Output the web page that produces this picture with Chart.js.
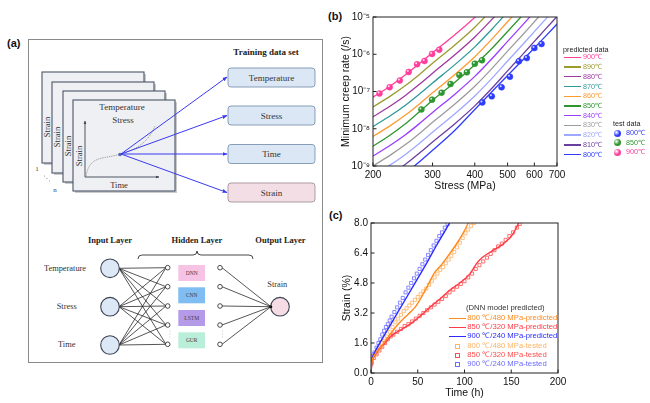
<!DOCTYPE html>
<html>
<head>
<meta charset="utf-8">
<script src="https://cdn.jsdelivr.net/npm/chart.js@4.4.1/dist/chart.umd.min.js"></script>
<style>
  body { margin: 0; background: #fff; }
  #page { position: relative; width: 650px; height: 403px; overflow: hidden; font-family: "Liberation Sans", Arial, sans-serif; }
  .abs { position: absolute; white-space: nowrap; line-height: 1; }
  .panel { font-weight: bold; font-size: 11px; color: #111; }
  canvas { position: absolute; }
</style>
</head>
<body>
<div id="page">
<svg width="650" height="403" style="position:absolute;left:0;top:0" font-family="Liberation Serif, Times New Roman, serif">
  <defs>
    <marker id="blueHead" viewBox="0 0 10 10" refX="9" refY="5" markerWidth="5" markerHeight="5" orient="auto">
      <path d="M0,1 L10,5 L0,9 z" fill="#3a3af2"/>
    </marker>
    <marker id="darkHead" viewBox="0 0 10 10" refX="9" refY="5" markerWidth="4" markerHeight="4" orient="auto">
      <path d="M0,1 L10,5 L0,9 z" fill="#3d4452"/>
    </marker>
  </defs>
  <text x="7" y="47" font-family="Liberation Sans, Arial" font-weight="bold" font-size="11" fill="#111">(a)</text>
  <rect x="28.5" y="39.5" width="294" height="323" fill="#fff" stroke="#8a8a8a" stroke-width="1"/>
  <text x="266" y="55" text-anchor="middle" font-weight="bold" font-size="9" fill="#222">Training data set</text>

  <!-- stacked strain-time cards -->
  <g>
    <rect x="44" y="74" width="102" height="91" fill="#c9cbcf"/>
    <rect x="42" y="72" width="102" height="91" fill="#eef0f3" stroke="#4b5668" stroke-width="1.1"/>
    <rect x="54" y="84" width="102" height="91" fill="#c9cbcf"/>
    <rect x="52" y="82" width="102" height="91" fill="#eef0f3" stroke="#4b5668" stroke-width="1.1"/>
    <rect x="65" y="93" width="102" height="91" fill="#c9cbcf"/>
    <rect x="63" y="91" width="102" height="91" fill="#eef0f3" stroke="#4b5668" stroke-width="1.1"/>
    <rect x="75" y="102" width="102" height="91" fill="#c9cbcf"/>
    <rect x="73" y="100" width="102" height="91" fill="#eef0f3" stroke="#4b5668" stroke-width="1.1"/>
  </g>
  <g font-size="8.5" fill="#333" text-anchor="middle">
    <text transform="translate(50,127) rotate(-90)">Strain</text>
    <text transform="translate(60,137) rotate(-90)">Strain</text>
    <text transform="translate(71,146) rotate(-90)">Strain</text>
    <text transform="translate(82,156) rotate(-90)">Strain</text>
    <text x="122" y="110" font-size="9">Temperature</text>
    <text x="123" y="123" font-size="9">Stress</text>
    <text x="119" y="188">Time</text>
  </g>
  <line x1="85" y1="177" x2="85" y2="121" stroke="#3d4452" stroke-width="0.9" marker-end="url(#darkHead)"/>
  <line x1="85" y1="177" x2="159" y2="177" stroke="#3d4452" stroke-width="0.9" marker-end="url(#darkHead)"/>
  <path d="M86,176 C88,164 94,159 105,157.5 L120,154.5 C135,150 148,143 155,126" fill="none" stroke="#8f8f8f" stroke-width="0.9" stroke-dasharray="1.2,1"/>
  <circle cx="120" cy="154.5" r="1.8" fill="#5566aa"/>
  <g font-size="7" fill="#444" text-anchor="middle">
    <text x="37" y="171">1</text>
    <text x="55" y="192">n</text>
  </g>
  <g fill="#777">
    <circle cx="44.5" cy="176" r="0.5"/><circle cx="47" cy="178.5" r="0.5"/><circle cx="49.5" cy="181" r="0.5"/>
  </g>

  <!-- arrows to training data boxes -->
  <g stroke="#3a3af2" stroke-width="1" marker-end="url(#blueHead)">
    <line x1="121" y1="154" x2="227" y2="77"/>
    <line x1="121" y1="154" x2="227" y2="115.5"/>
    <line x1="121" y1="154" x2="227" y2="154"/>
    <line x1="121" y1="154" x2="227" y2="192.5"/>
  </g>
  <g stroke-width="0.9">
    <rect x="228" y="68" width="87" height="19" rx="3" fill="#dbe7f5" stroke="#7d94b0"/>
    <rect x="228" y="106" width="87" height="19" rx="3" fill="#dbe7f5" stroke="#7d94b0"/>
    <rect x="228" y="144.5" width="87" height="19" rx="3" fill="#dbe7f5" stroke="#7d94b0"/>
    <rect x="228" y="183" width="87" height="19" rx="3" fill="#f4dee5" stroke="#a3929c"/>
  </g>
  <g font-size="9" fill="#333" text-anchor="middle">
    <text x="271.5" y="80.5">Temperature</text>
    <text x="271.5" y="118.5">Stress</text>
    <text x="271.5" y="157">Time</text>
    <text x="271.5" y="195.5">Strain</text>
  </g>

  <!-- network -->
  <g font-size="8.5" font-weight="bold" fill="#222" text-anchor="middle">
    <text x="110" y="243">Input Layer</text>
    <text x="197" y="243">Hidden Layer</text>
    <text x="280.5" y="243">Output Layer</text>
  </g>
  <path d="M138,259 Q138,255 142,255 L193,255 Q197,255 197,251 Q197,255 201,255 L249,255 Q253,255 253,259" fill="none" stroke="#333" stroke-width="0.9"/>
  <g stroke="#1e1e1e" stroke-width="0.75">
    <line x1="119" y1="268.3" x2="166" y2="267.7"/><line x1="119" y1="268.3" x2="166" y2="286.7"/><line x1="119" y1="268.3" x2="166" y2="306"/><line x1="119" y1="268.3" x2="166" y2="325"/><line x1="119" y1="268.3" x2="166" y2="344.3"/>
    <line x1="119" y1="306.7" x2="166" y2="267.7"/><line x1="119" y1="306.7" x2="166" y2="286.7"/><line x1="119" y1="306.7" x2="166" y2="306"/><line x1="119" y1="306.7" x2="166" y2="325"/><line x1="119" y1="306.7" x2="166" y2="344.3"/>
    <line x1="119" y1="345" x2="166" y2="267.7"/><line x1="119" y1="345" x2="166" y2="286.7"/><line x1="119" y1="345" x2="166" y2="306"/><line x1="119" y1="345" x2="166" y2="325"/><line x1="119" y1="345" x2="166" y2="344.3"/>
    <line x1="222" y1="267.7" x2="271" y2="306.7"/><line x1="222" y1="286.7" x2="271" y2="306.7"/><line x1="222" y1="306" x2="271" y2="306.7"/><line x1="222" y1="325" x2="271" y2="306.7"/><line x1="222" y1="344.3" x2="271" y2="306.7"/>
  </g>
  <g fill="#dce8f5" stroke="#3d4452" stroke-width="1.1">
    <circle cx="110" cy="268.3" r="9.3"/><circle cx="110" cy="306.7" r="9.3"/><circle cx="110" cy="345" r="9.3"/>
  </g>
  <circle cx="280" cy="306.7" r="9.3" fill="#f6dce4" stroke="#3d4452" stroke-width="1.1"/>
  <circle cx="270.8" cy="306.7" r="1.5" fill="#111"/>
  <g fill="#fff" stroke="#222" stroke-width="0.8">
    <circle cx="167.7" cy="267.7" r="2.3"/><circle cx="167.7" cy="286.7" r="2.3"/><circle cx="167.7" cy="306" r="2.3"/><circle cx="167.7" cy="325" r="2.3"/><circle cx="167.7" cy="344.3" r="2.3"/>
    <circle cx="220" cy="267.7" r="2.3"/><circle cx="220" cy="286.7" r="2.3"/><circle cx="220" cy="306" r="2.3"/><circle cx="220" cy="325" r="2.3"/><circle cx="220" cy="344.3" r="2.3"/>
  </g>
  <g fill="#888">
    <circle cx="170" cy="331" r="0.45"/><circle cx="170" cy="334" r="0.45"/><circle cx="170" cy="337" r="0.45"/>
    <circle cx="222.5" cy="331" r="0.45"/><circle cx="222.5" cy="334" r="0.45"/><circle cx="222.5" cy="337" r="0.45"/>
  </g>
  <g>
    <rect x="178.3" y="265" width="26.7" height="16" fill="#f7c3e5"/>
    <rect x="178.3" y="287.3" width="26.7" height="16" fill="#7fbdf2"/>
    <rect x="178.3" y="310" width="26.7" height="16" fill="#b59ae8"/>
    <rect x="178.3" y="332.3" width="26.7" height="16" fill="#b9eedb"/>
  </g>
  <g font-size="5.5" fill="#4a3a4a" text-anchor="middle">
    <text x="191.7" y="275">DNN</text>
    <text x="191.7" y="297.3">CNN</text>
    <text x="191.7" y="320">LSTM</text>
    <text x="191.7" y="342.3">GUR</text>
  </g>
  <g font-size="8.4" fill="#333" text-anchor="middle">
    <text x="65" y="271">Temperature</text>
    <text x="66.7" y="309">Stress</text>
    <text x="66.7" y="347">Time</text>
    <text x="277.3" y="287">Strain</text>
  </g>
</svg>

<div class="abs panel" style="left:328px;top:11px">(b)</div>
<div class="abs panel" style="left:329px;top:210px">(c)</div>
<canvas id="rateChart" width="237" height="189" style="left:335px;top:5px;width:237px;height:189px"></canvas>
<canvas id="strainChart" width="237" height="188" style="left:335px;top:213px;width:237px;height:188px"></canvas>
<div id="legendB"></div>
<div id="legendC"></div>
</div>

<script>
// ---- panel (b): minimum creep rate vs stress ----
const stressGrid = [200, 225, 250, 275, 300, 350, 400, 450, 500, 550, 600, 650, 700];
const stressTicks = [200, 300, 400, 500, 600, 700];
const rateTicks = [1e-9, 1e-8, 1e-7, 1e-6, 1e-5];

const predTemps = ['900', '890', '880', '870', '860', '850', '840', '830', '820', '810', '800'];
const predColors = ['#ff3e9b', '#9b9b2f', '#a0389f', '#2f9a9a', '#ff9a30', '#2e962e', '#9b3cff', '#9c9c9c', '#9fa8ff', '#6b3fa0', '#2f3cff'];

// predicted rates, read along stressGrid (a line stops once it leaves the top)
const rate900 = [7.08e-8, 1.40e-7, 2.85e-7, 5.70e-7, 1.10e-6, 3.40e-6, 9.80e-6, 2.95e-5];
const rate890 = [3.85e-8, 7.52e-8, 1.47e-7, 2.92e-7, 5.70e-7, 1.80e-6, 5.32e-6, 1.61e-5];
const rate880 = [2.10e-8, 4.09e-8, 7.98e-8, 1.59e-7, 3.10e-7, 9.82e-7, 2.90e-6, 8.75e-6, 2.52e-5];
const rate870 = [1.14e-8, 2.23e-8, 4.35e-8, 8.67e-8, 1.69e-7, 5.35e-7, 1.58e-6, 4.76e-6, 1.37e-5];
const rate860 = [6.22e-9, 1.21e-8, 2.37e-8, 4.72e-8, 9.20e-8, 2.91e-7, 8.59e-7, 2.59e-6, 7.48e-6, 1.92e-5];
const rate850 = [3.39e-9, 6.80e-9, 1.38e-8, 2.90e-8, 5.80e-8, 1.80e-7, 5.20e-7, 1.45e-6, 4.07e-6, 1.05e-5, 2.51e-5];
const rate840 = [1.85e-9, 3.60e-9, 7.02e-9, 1.40e-8, 2.73e-8, 8.63e-8, 2.55e-7, 7.69e-7, 2.22e-6, 5.70e-6, 1.37e-5];
const rate830 = [1.00e-9, 1.96e-9, 3.82e-9, 7.62e-9, 1.49e-8, 4.70e-8, 1.39e-7, 4.19e-7, 1.21e-6, 3.10e-6, 7.45e-6, 1.67e-5];
const rate820 = [5.47e-10, 1.07e-9, 2.08e-9, 4.15e-9, 8.09e-9, 2.56e-8, 7.55e-8, 2.28e-7, 6.58e-7, 1.69e-6, 4.06e-6, 9.08e-6, 1.90e-5];
const rate810 = [2.98e-10, 5.81e-10, 1.13e-9, 2.26e-9, 4.41e-9, 1.39e-8, 4.11e-8, 1.24e-7, 3.58e-7, 9.20e-7, 2.21e-6, 4.94e-6, 1.03e-5];
const rate800 = [1.74e-10, 3.39e-10, 6.61e-10, 1.32e-9, 2.63e-9, 9.30e-9, 3.30e-8, 1.00e-7, 2.70e-7, 6.50e-7, 1.48e-6, 3.16e-6, 6.46e-6];
const predRates = [rate900, rate890, rate880, rate870, rate860, rate850, rate840, rate830, rate820, rate810, rate800];

// test data
const testTemps = ['800', '850', '900'];
const testColors = ['#2f3cff', '#2e962e', '#ff3e9b'];
const test800Stress = [421, 449, 480, 508, 540, 570, 600, 630];
const test800Rate = [5.1e-8, 7.4e-8, 1.3e-7, 2.5e-7, 6.5e-7, 7.9e-7, 1.47e-6, 1.88e-6];
const test850Stress = [278, 299, 319, 339, 360, 379, 400, 420];
const test850Rate = [3.3e-8, 6.05e-8, 9.3e-8, 1.59e-7, 2.77e-7, 3.27e-7, 5.6e-7, 6.9e-7];
const test900Stress = [209, 224, 240, 255, 270, 284, 299, 314];
const test900Rate = [8.8e-8, 1.3e-7, 1.96e-7, 3.34e-7, 5.4e-7, 6.6e-7, 1.02e-6, 1.33e-6];
const testStress = [test800Stress, test850Stress, test900Stress];
const testRate = [test800Rate, test850Rate, test900Rate];

// ---- panel (c): strain vs time ----
const conditions = ['800 ℃/480 MPa', '850 ℃/320 MPa', '900 ℃/240 MPa'];
const predStrainColors = ['#ff8a1f', '#ff3b47', '#2b2bff'];
const testStrainColors = ['#ffb366', '#ff4d4d', '#6b6bff'];
const strainTicks = [0, 1.6, 3.2, 4.8, 6.4, 8.0];
const timeTicks = [0, 50, 100, 150, 200];

const pred800Time = [0, 1, 2, 5, 10, 18, 29, 40, 47, 54, 61, 68, 75, 84, 93, 99, 104];
const pred800Strain = [0, 0.6, 0.8, 1.05, 1.35, 1.9, 2.6, 3.15, 3.5, 4.05, 4.7, 5.35, 5.75, 6.35, 7.0, 7.5, 8.0];
const pred850Time = [0, 1, 2, 5, 10, 15, 20, 25, 32, 43, 54, 64, 75, 85, 95, 106, 113, 120, 131, 142, 151, 158];
const pred850Strain = [0, 0.55, 0.75, 1.0, 1.35, 1.6, 1.9, 2.1, 2.3, 2.65, 3.1, 3.55, 4.0, 4.45, 4.8, 5.3, 5.85, 6.2, 6.55, 6.9, 7.35, 8.0];
const pred900Time = [0, 1, 3, 6, 10, 20, 30, 40, 50, 60, 70, 80, 84];
const pred900Strain = [0, 0.7, 1.0, 1.3, 1.65, 2.5, 3.35, 4.2, 5.05, 5.9, 6.8, 7.65, 8.0];

const test800Time = [1, 3, 5, 8, 11, 14, 17, 20, 23, 26, 29, 32, 35, 38, 41, 44, 47, 50, 53, 56, 59, 62, 65, 68, 71, 74, 77, 80, 83, 86, 89, 92, 95, 98, 101, 104, 107, 110];
const test800Strain = [0.65, 0.9, 1.05, 1.25, 1.45, 1.7, 1.95, 2.2, 2.45, 2.7, 2.9, 3.1, 3.3, 3.45, 3.6, 3.75, 3.9, 4.05, 4.2, 4.35, 4.5, 4.7, 4.9, 5.1, 5.3, 5.5, 5.65, 5.85, 6.05, 6.25, 6.45, 6.7, 6.95, 7.2, 7.45, 7.65, 7.85, 8.0];
const test850Time = [1, 3, 6, 9, 12, 15, 18, 21, 24, 28, 32, 36, 40, 44, 48, 52, 56, 60, 64, 68, 72, 76, 80, 84, 88, 92, 96, 100, 104, 108, 112, 116, 120, 124, 128, 132, 136, 140, 144, 148, 152, 156, 159];
const test850Strain = [0.6, 0.8, 1.0, 1.2, 1.4, 1.6, 1.8, 1.95, 2.05, 2.2, 2.35, 2.5, 2.6, 2.75, 2.9, 3.05, 3.2, 3.35, 3.5, 3.65, 3.8, 3.95, 4.1, 4.3, 4.45, 4.6, 4.75, 4.9, 5.1, 5.3, 5.55, 5.75, 5.95, 6.15, 6.35, 6.55, 6.75, 6.9, 7.1, 7.3, 7.5, 7.75, 7.95];
const test900Time = [0.5, 1, 2, 3, 4, 6, 8, 10, 12, 14, 16, 18, 20, 22, 25, 28, 31, 34, 37, 40, 43, 46, 49, 52, 55, 58, 61, 64, 67, 70, 73, 76, 79, 82];
const test900Strain = [0.5, 0.75, 0.9, 1.0, 1.1, 1.35, 1.6, 1.8, 2.05, 2.25, 2.45, 2.6, 2.8, 3.0, 3.25, 3.5, 3.75, 4.0, 4.3, 4.55, 4.8, 5.05, 5.3, 5.55, 5.8, 6.05, 6.3, 6.55, 6.8, 7.05, 7.3, 7.5, 7.75, 7.95];

const predTime = [pred800Time, pred850Time, pred900Time];
const predStrain = [pred800Strain, pred850Strain, pred900Strain];
const testTime = [test800Time, test850Time, test900Time];
const testStrain = [test800Strain, test850Strain, test900Strain];

const FONT = '"Liberation Sans", Arial, sans-serif';
const SUP = {'-': '⁻', '0': '⁰', '1': '¹', '2': '²', '3': '³', '4': '⁴', '5': '⁵', '6': '⁶', '7': '⁷', '8': '⁸', '9': '⁹'};
const toPairs = (xs, ys) => ys.map((y, i) => ({x: xs[i], y: y}));

// frame round the plot area plus inward tick marks
const frameTicks = {
  id: 'frameTicks',
  afterDraw(chart) {
    const {ctx, chartArea: a, scales} = chart;
    ctx.save();
    ctx.strokeStyle = '#222';
    ctx.lineWidth = 1;
    ctx.strokeRect(a.left, a.top, a.right - a.left, a.bottom - a.top);
    ctx.beginPath();
    scales.x.ticks.forEach((t, i) => {
      const px = scales.x.getPixelForTick(i);
      ctx.moveTo(px, a.bottom); ctx.lineTo(px, a.bottom - 3.5);
    });
    scales.y.ticks.forEach((t, i) => {
      const py = scales.y.getPixelForTick(i);
      ctx.moveTo(a.left, py); ctx.lineTo(a.left + 3.5, py);
    });
    ctx.stroke();
    ctx.restore();
  }
};

// small highlight so the test points look like balls
const sphereShine = {
  id: 'sphereShine',
  afterDatasetsDraw(chart) {
    const ctx = chart.ctx;
    chart.data.datasets.forEach((ds, i) => {
      if (!ds.sphere) return;
      chart.getDatasetMeta(i).data.forEach(pt => {
        ctx.save();
        ctx.fillStyle = 'rgba(255,255,255,0.8)';
        ctx.beginPath();
        ctx.arc(pt.x - 0.9, pt.y - 1, 1, 0, Math.PI * 2);
        ctx.fill();
        ctx.restore();
      });
    });
  }
};

function axisBase(tickFont) {
  return {
    grid: {display: false, drawTicks: false},
    border: {display: false},
    ticks: {color: '#111', font: {family: FONT, size: tickFont}, maxRotation: 0, autoSkip: false}
  };
}

const rateDatasets = predRates.map((r, i) => ({
  label: predTemps[i] + '℃',
  data: toPairs(stressGrid, r),
  borderColor: predColors[i],
  borderWidth: 1.3,
  pointRadius: 0,
  cubicInterpolationMode: 'monotone',
  order: 2
}));
testRate.forEach((r, i) => {
  rateDatasets.push({
    label: 'test ' + testTemps[i] + '℃',
    data: toPairs(testStress[i], r),
    showLine: false,
    sphere: true,
    pointRadius: 3,
    pointBackgroundColor: testColors[i],
    pointBorderColor: testColors[i],
    pointBorderWidth: 0.5,
    order: 1
  });
});

const bx = axisBase(10), by = axisBase(10);
new Chart(document.getElementById('rateChart'), {
  type: 'line',
  data: {datasets: rateDatasets},
  options: {
    responsive: false,
    animation: false,
    layout: {padding: {top: 12, right: 15, left: 0, bottom: 0}},
    plugins: {legend: {display: false}, tooltip: {enabled: false}},
    scales: {
      x: Object.assign(bx, {
        type: 'logarithmic', min: 200, max: 700,
        afterBuildTicks: s => { s.ticks = stressTicks.map(v => ({value: v})); },
        afterFit: s => { s.height = 28; },
        ticks: Object.assign(bx.ticks, {padding: 3, callback: v => String(v)}),
        title: {display: true, text: 'Stress (MPa)', color: '#111', font: {family: FONT, size: 10.5}, padding: {top: 0, bottom: 1.7}}
      }),
      y: Object.assign(by, {
        type: 'logarithmic', min: 1e-9, max: 1e-5,
        afterBuildTicks: s => { s.ticks = rateTicks.map(v => ({value: v})); },
        afterFit: s => { s.width = 38; },
        ticks: Object.assign(by.ticks, {padding: 3, callback: v => '10' + String(Math.round(Math.log10(v))).split('').map(c => SUP[c]).join('')}),
        title: {display: true, text: 'Minimum creep rate (/s)', color: '#111', font: {family: FONT, size: 10.5}, padding: {top: 4.7, bottom: 0}}
      })
    }
  },
  plugins: [frameTicks, sphereShine]
});

const strainDatasets = [];
predTime.forEach((t, i) => {
  strainDatasets.push({
    label: conditions[i] + '-predicted',
    data: toPairs(t, predStrain[i]),
    borderColor: predStrainColors[i],
    borderWidth: 1.4,
    pointRadius: 0,
    cubicInterpolationMode: 'monotone',
    order: 1
  });
});
testTime.forEach((t, i) => {
  strainDatasets.push({
    label: conditions[i] + '-tested',
    data: toPairs(t, testStrain[i]),
    showLine: false,
    pointStyle: 'rect',
    pointRadius: 2.2,
    pointBackgroundColor: 'rgba(255,255,255,0)',
    pointBorderColor: testStrainColors[i],
    pointBorderWidth: 0.8,
    order: 2
  });
});

const cx = axisBase(10), cy = axisBase(10);
new Chart(document.getElementById('strainChart'), {
  type: 'line',
  data: {datasets: strainDatasets},
  options: {
    responsive: false,
    animation: false,
    layout: {padding: {top: 10, right: 14, left: 0, bottom: 0}},
    plugins: {legend: {display: false}, tooltip: {enabled: false}},
    scales: {
      x: Object.assign(cx, {
        type: 'linear', min: 0, max: 200,
        afterBuildTicks: s => { s.ticks = timeTicks.map(v => ({value: v})); },
        afterFit: s => { s.height = 28; },
        ticks: Object.assign(cx.ticks, {padding: 3, callback: v => String(v)}),
        title: {display: true, text: 'Time (h)', color: '#111', font: {family: FONT, size: 10.5}, padding: {top: 0, bottom: 2}}
      }),
      y: Object.assign(cy, {
        type: 'linear', min: 0, max: 8,
        afterBuildTicks: s => { s.ticks = strainTicks.map(v => ({value: v})); },
        afterFit: s => { s.width = 36; },
        ticks: Object.assign(cy.ticks, {padding: 3, callback: v => Number(v).toFixed(1)}),
        title: {display: true, text: 'Strain (%)', color: '#111', font: {family: FONT, size: 10.5}, padding: {top: 5.4, bottom: 0}}
      })
    }
  },
  plugins: [frameTicks]
});

// ---- hand-placed legends ----
function put(parent, html, left, midY, size, color) {
  const d = document.createElement('div');
  d.className = 'abs';
  d.style.left = left + 'px';
  d.style.top = (midY - size * 0.55) + 'px';
  d.style.fontSize = size + 'px';
  d.style.color = color;
  d.textContent = html;
  parent.appendChild(d);
  return d;
}
function swatchLine(parent, left, midY, width, color, thick) {
  const d = document.createElement('div');
  d.className = 'abs';
  Object.assign(d.style, {left: left + 'px', top: (midY - thick / 2) + 'px', width: width + 'px', height: thick + 'px', background: color});
  parent.appendChild(d);
}

const legB = document.getElementById('legendB');
put(legB, 'predicted data', 563, 50, 7.2, '#222');
predTemps.forEach((t, i) => {
  const y = 57.3 + i * 9.73;
  swatchLine(legB, 564, y, 17, predColors[i], 1.4);
  put(legB, t + '℃', 583, y, 7.2, predColors[i]);
});
put(legB, 'test data', 613, 124, 7.2, '#222');
testTemps.forEach((t, i) => {
  const y = 133 + i * 9.5;
  const b = document.createElement('div');
  b.className = 'abs';
  Object.assign(b.style, {left: '614px', top: (y - 3.5) + 'px', width: '7px', height: '7px', borderRadius: '50%',
    background: 'radial-gradient(circle at 35% 35%, #fff 0, ' + testColors[i] + ' 50%)'});
  legB.appendChild(b);
  put(legB, t + '℃', 626, y, 7.2, testColors[i]);
});

const legC = document.getElementById('legendC');
put(legC, '(DNN model predicted)', 466, 308.3, 7.7, '#333');
conditions.forEach((c, i) => {
  const y = 318.3 + i * 9.2;
  swatchLine(legC, 449, y, 17, predStrainColors[i], 1.5);
  put(legC, c + '-predicted', 467.3, y, 7.7, predStrainColors[i]);
});
conditions.forEach((c, i) => {
  const y = 345.9 + i * 9.1;
  const s = document.createElement('div');
  s.className = 'abs';
  Object.assign(s.style, {left: '455px', top: (y - 2.2) + 'px', width: '3.4px', height: '3.4px', border: '0.8px solid ' + testStrainColors[i]});
  legC.appendChild(s);
  put(legC, c + '-tested', 467.3, y, 7.7, testStrainColors[i]);
});
</script>
</body>
</html>
